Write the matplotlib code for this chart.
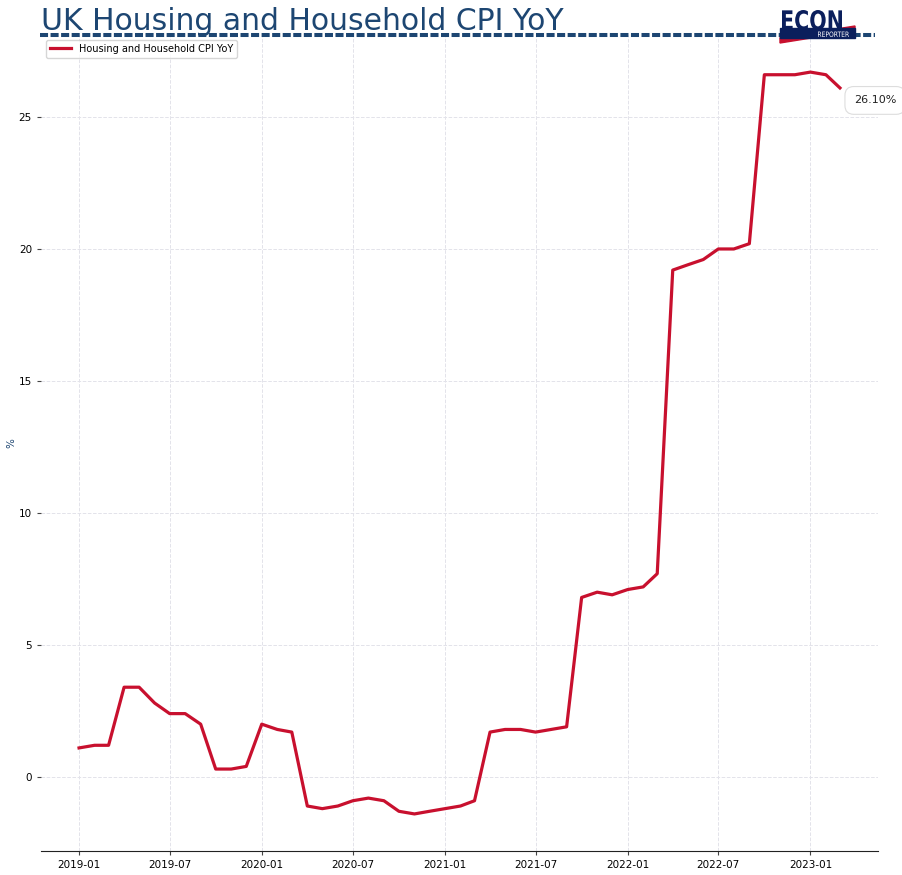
import numpy as np
import pandas as pd
import matplotlib
matplotlib.use("Agg")
import matplotlib.pyplot as plt
import matplotlib.dates as mdates
from matplotlib.patches import Polygon, Rectangle, PathPatch
from matplotlib.lines import Line2D
from matplotlib.textpath import TextPath
from matplotlib.font_manager import FontProperties
from matplotlib.transforms import Affine2D

# monthly YoY values, 2019-01 .. 2023-03
months = pd.date_range("2019-01-01", "2023-03-01", freq="MS")
cpi_yoy = [1.1, 1.2, 1.2, 3.4, 3.4, 2.8, 2.4, 2.4, 2.0, 0.3, 0.3, 0.4,
           2.0, 1.8, 1.7, -1.1, -1.2, -1.1, -0.9, -0.8, -0.9, -1.3, -1.4, -1.3,
           -1.2, -1.1, -0.9, 1.7, 1.8, 1.8, 1.7, 1.8, 1.9, 6.8, 7.0, 6.9,
           7.1, 7.2, 7.7, 19.2, 19.4, 19.6, 20.0, 20.0, 20.2, 26.6, 26.6, 26.6,
           26.7, 26.6, 26.1]
title = "UK Housing and Household CPI YoY"
series_name = "Housing and Household CPI YoY"

navy = "#1d4672"
logo_navy = "#0b1f5c"
red = "#c8102e"
W, H = 903, 875

fig = plt.figure(figsize=(W / 100, H / 100), dpi=100)
ax = fig.add_axes([0.0454, 0.0274, 0.9269, 0.9326])

ax.plot(months, cpi_yoy, color=red, lw=2.3, label=series_name)

ax.grid(True, color="#e3e3ea", linestyle="--", linewidth=0.7)
for s in ["top", "right", "left"]:
    ax.spines[s].set_visible(False)
ax.spines["bottom"].set_color("#222222")

ax.xaxis.set_major_locator(mdates.MonthLocator(bymonth=[1, 7]))
ax.xaxis.set_major_formatter(mdates.DateFormatter("%Y-%m"))
ax.set_yticks([0, 5, 10, 15, 20, 25])
ax.tick_params(axis="both", labelsize=7.5, length=3, color="#444444")
ax.set_ylabel("%", fontsize=7.5, color=navy, labelpad=1.5)

leg = ax.legend(loc="upper left", fontsize=7, frameon=True, borderaxespad=0.5,
                handlelength=2.2)
leg.get_frame().set_edgecolor("#cccccc")

# last value label
ax.annotate(f"{cpi_yoy[-1]:.2f}%", xy=(months[-1], cpi_yoy[-1]),
            xytext=(10, -9), textcoords="offset points", ha="left", va="center",
            fontsize=8, color="#222222",
            bbox=dict(boxstyle="round,pad=0.8", fc="white", ec="#dddddd", lw=0.8))

# title and dashed rule
fig.text(41 / W, 1 - 29.5 / H, title, fontsize=21.5, color=navy, ha="left", va="baseline")
fig.add_artist(Line2D([40 / W, 875 / W], [1 - 34.7 / H, 1 - 34.7 / H], transform=fig.transFigure,
                      color=navy, lw=2.9, linestyle=(0, (2.0, 0.62))))


def boxed_text(s, x0, y_top, w, h, color, weight="bold"):
    # text squeezed into a pixel box (logo lettering)
    tp = TextPath((0, 0), s, size=1, prop=FontProperties(family="DejaVu Sans", weight=weight))
    bb = tp.get_extents()
    tr = (Affine2D().translate(-bb.x0, -bb.y0)
          .scale(w / W / bb.width, h / H / bb.height)
          .translate(x0 / W, 1 - (y_top + h) / H)) + fig.transFigure
    fig.add_artist(PathPatch(tp, transform=tr, color=color, lw=0, zorder=8))


# logo
fig.add_artist(Polygon([[780 / W, 1 - 38 / H], [855 / W, 1 - 26 / H],
                        [855 / W, 1 - 31 / H], [780 / W, 1 - 43 / H]],
                       closed=True, transform=fig.transFigure, color=red, zorder=5))
fig.add_artist(Rectangle((780 / W, 1 - 38 / H), 75 / W, 10 / H, transform=fig.transFigure,
                         color=logo_navy, zorder=6))
boxed_text("ECON", 782, 10, 60, 20, logo_navy)
boxed_text("REPORTER", 818, 31.5, 31, 5.5, "white", weight="normal")

fig.savefig("out.png", dpi=100)
